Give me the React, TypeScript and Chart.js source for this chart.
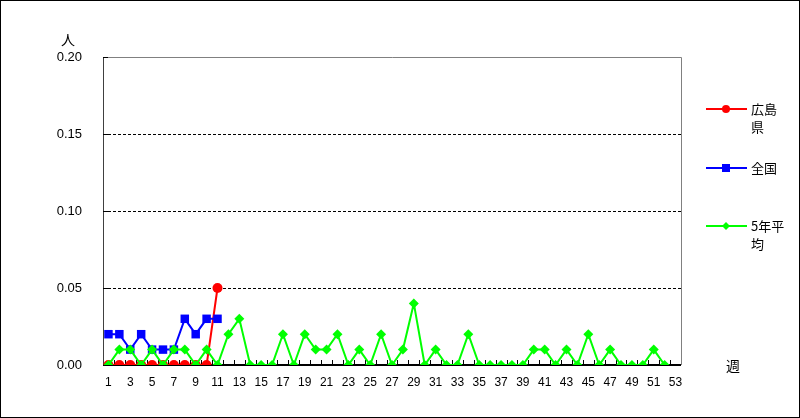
import React, { useEffect, useRef } from "react";
import { Chart, registerables } from "chart.js";

Chart.register(...registerables);

const weeks: string[] = Array.from({ length: 53 }, (_, i) => String(i + 1));

const hiroshima: (number | null)[] = [0, 0, 0, 0, 0, 0, 0, 0, 0, 0, 0.05];
const zenkoku: (number | null)[] = [0.02, 0.02, 0.01, 0.02, 0.01, 0.01, 0.01, 0.03, 0.02, 0.03, 0.03];
const avg5: (number | null)[] = [
  0, 0.01, 0.01, 0, 0.01, 0, 0.01, 0.01, 0, 0.01,
  0, 0.02, 0.03, 0, 0, 0, 0.02, 0, 0.02, 0.01,
  0.01, 0.02, 0, 0.01, 0, 0.02, 0, 0.01, 0.04, 0,
  0.01, 0, 0, 0.02, 0, 0, 0, 0, 0, 0.01,
  0.01, 0, 0.01, 0, 0.02, 0, 0.01, 0, 0, 0,
  0.01, 0,
];
const yTicks: number[] = [0, 0.05, 0.1, 0.15, 0.2];

const seriesNames = ["広島県", "全国", "5年平均"];
const seriesColors = ["#ff0000", "#0000ff", "#00ff00"];

const JP = '"Noto Sans CJK JP", sans-serif';
const NUM = '"Liberation Sans", Arial, sans-serif';

const framePlugin = {
  id: "frame",
  beforeDatasetsDraw(chart: any) {
    const { ctx, chartArea: a, scales } = chart;
    const y = scales.y;
    const x = scales.x;
    ctx.save();
    ctx.strokeStyle = "#000";
    ctx.lineWidth = 1;
    ctx.setLineDash([3, 2]);
    for (const v of yTicks) {
      if (v === 0 || v === 0.2) continue;
      const py = Math.round(y.getPixelForValue(v)) + 0.5;
      ctx.beginPath();
      ctx.moveTo(a.left, py);
      ctx.lineTo(a.right, py);
      ctx.stroke();
    }
    ctx.setLineDash([]);
    ctx.strokeStyle = "#808080";
    ctx.beginPath();
    ctx.moveTo(a.left, a.top + 0.5);
    ctx.lineTo(a.right + 0.5, a.top + 0.5);
    ctx.lineTo(a.right + 0.5, a.bottom);
    ctx.stroke();
    ctx.strokeStyle = "#404040";
    ctx.beginPath();
    ctx.moveTo(a.left + 0.5, a.top);
    ctx.lineTo(a.left + 0.5, a.bottom);
    ctx.stroke();
    ctx.strokeStyle = "#000";
    ctx.lineWidth = 2;
    ctx.beginPath();
    ctx.moveTo(a.left, a.bottom);
    ctx.lineTo(a.right, a.bottom);
    ctx.stroke();
    ctx.lineWidth = 1;
    const n = weeks.length;
    for (let i = 1; i < n; i++) {
      const px = Math.round((x.getPixelForValue(i - 1) + x.getPixelForValue(i)) / 2) + 0.5;
      ctx.beginPath();
      ctx.moveTo(px, a.bottom);
      ctx.lineTo(px, a.bottom - 5);
      ctx.stroke();
    }
    for (const v of yTicks) {
      const py = Math.round(y.getPixelForValue(v)) + 0.5;
      ctx.beginPath();
      ctx.moveTo(a.left, py);
      ctx.lineTo(a.left + 5, py);
      ctx.stroke();
    }
    ctx.restore();
  },
  afterDraw(chart: any) {
    const { ctx } = chart;
    ctx.save();
    ctx.strokeStyle = "#000";
    ctx.lineWidth = 1;
    ctx.strokeRect(0.5, 0.5, 799, 417);
    ctx.fillStyle = "#000";
    ctx.font = `14px ${JP}`;
    ctx.textAlign = "center";
    ctx.textBaseline = "middle";
    ctx.fillText("人", 68, 40);
    ctx.fillText("週", 733, 366);
    const entries = [
      { y: 109, lines: ["広島", "県"], shape: "circle" },
      { y: 168, lines: ["全国"], shape: "square" },
      { y: 226, lines: ["5年平", "均"], shape: "diamond" },
    ];
    entries.forEach((e, i) => {
      const c = seriesColors[i];
      ctx.strokeStyle = c;
      ctx.fillStyle = c;
      ctx.lineWidth = 2;
      ctx.beginPath();
      ctx.moveTo(706, e.y);
      ctx.lineTo(747, e.y);
      ctx.stroke();
      ctx.beginPath();
      if (e.shape === "circle") {
        ctx.arc(726, e.y, 4, 0, Math.PI * 2);
      } else if (e.shape === "square") {
        ctx.rect(722, e.y - 4, 8, 8);
      } else {
        ctx.moveTo(726, e.y - 4);
        ctx.lineTo(730, e.y);
        ctx.lineTo(726, e.y + 4);
        ctx.lineTo(722, e.y);
        ctx.closePath();
      }
      ctx.fill();
      ctx.fillStyle = "#000";
      ctx.font = `13px ${JP}`;
      ctx.textAlign = "left";
      ctx.textBaseline = "middle";
      e.lines.forEach((t, k) => ctx.fillText(t, 751, e.y + k * 18));
    });
    ctx.restore();
  },
};

export default function App() {
  const ref = useRef<HTMLCanvasElement | null>(null);
  useEffect(() => {
    if (!ref.current) return;
    const chart = new Chart(ref.current, {
      type: "line",
      data: {
        labels: weeks,
        datasets: [
          {
            label: seriesNames[0],
            data: hiroshima,
            borderColor: seriesColors[0],
            backgroundColor: seriesColors[0],
            borderWidth: 2,
            pointStyle: "circle",
            pointRadius: 5,
            pointBorderWidth: 0,
            tension: 0,
            order: 2,
          },
          {
            label: seriesNames[1],
            data: zenkoku,
            borderColor: seriesColors[1],
            backgroundColor: seriesColors[1],
            borderWidth: 2,
            pointStyle: "rect",
            pointRadius: 6,
            pointBorderWidth: 0,
            tension: 0,
            order: 1,
          },
          {
            label: seriesNames[2],
            data: avg5,
            borderColor: seriesColors[2],
            backgroundColor: seriesColors[2],
            borderWidth: 2,
            pointStyle: "rectRot",
            pointRadius: 5,
            pointBorderWidth: 0,
            tension: 0,
            order: 0,
          },
        ],
      },
      options: {
        animation: false,
        responsive: false,
        devicePixelRatio: 1,
        layout: { padding: { left: 0, top: 57, right: 119, bottom: 0 } },
        plugins: { legend: { display: false }, tooltip: { enabled: false } },
        scales: {
          x: {
            type: "category",
            offset: true,
            grid: { display: false, drawTicks: false },
            border: { display: false },
            ticks: {
              autoSkip: false,
              maxRotation: 0,
              minRotation: 0,
              padding: 10,
              color: "#000",
              font: { family: NUM, size: 12 },
              callback: (_v: any, i: number) => (i % 2 === 0 ? weeks[i] : ""),
            },
            afterFit: (s: any) => {
              s.height = 53;
            },
          },
          y: {
            min: 0,
            max: 0.2,
            grid: { display: false, drawTicks: false },
            border: { display: false },
            afterBuildTicks: (s: any) => {
              s.ticks = yTicks.map((v) => ({ value: v }));
            },
            ticks: {
              padding: 21,
              color: "#000",
              font: { family: NUM, size: 13 },
              callback: (v: any) => Number(v).toFixed(2),
            },
            afterFit: (s: any) => {
              s.width = 103;
            },
          },
        },
      },
      plugins: [framePlugin],
    });
    return () => chart.destroy();
  }, []);
  return (
    <div style={{ position: "fixed", left: 0, top: 0, width: 800, height: 418, background: "#fff" }}>
      <canvas ref={ref} width={800} height={418} style={{ width: 800, height: 418, display: "block" }} />
    </div>
  );
}
